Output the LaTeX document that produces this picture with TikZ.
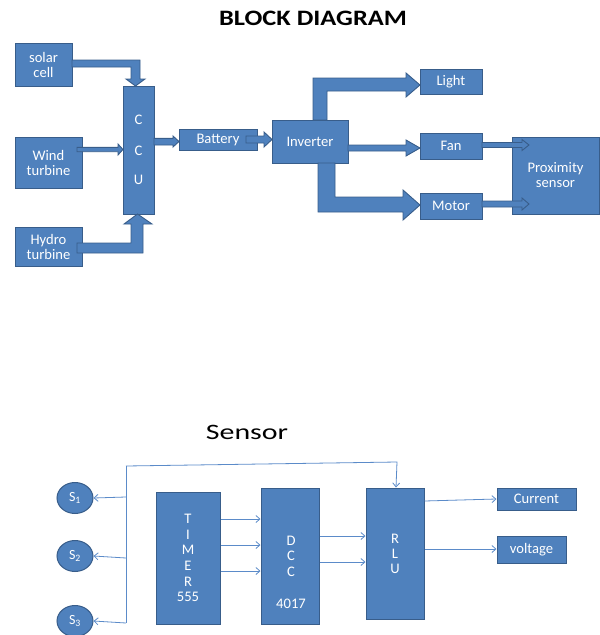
\documentclass[tikz,border=0pt]{standalone}
\usepackage{fontspec}
\setmainfont{Carlito}
\newfontfamily\titlefont{Carlito}[FakeStretch=1.2]
\newfontfamily\sensorfont{Carlito}[FakeStretch=1.36]
\usetikzlibrary{arrows.meta,shapes.geometric}
\definecolor{boxfill}{HTML}{4F81BD}
\definecolor{boxline}{HTML}{385D8A}
\definecolor{thinline}{HTML}{5B8BC9}
\tikzset{
  box/.style={rectangle, fill=boxfill, draw=boxline, line width=1pt, inner sep=0pt,
    text=white, align=center, font=\fontsize{14.6}{15}\selectfont},
  boxtext/.style={inner sep=0pt, text=white, align=center, font=\fontsize{14.6}{15.6}\selectfont},
  barrow/.style={fill=boxfill, draw=boxline, line width=0.9pt, line join=miter},
  sensorbub/.style={ellipse, fill=boxfill, draw=boxline, line width=1pt, inner sep=0pt,
    minimum width=36pt, minimum height=31pt, text=white, font=\fontsize{14}{16}\selectfont},
  thin/.style={draw=thinline, line width=0.8pt},
  thinarrow/.style={thin, -{Straight Barb[length=4pt,width=7pt,line width=0.8pt]}},
}
\begin{document}
\begin{tikzpicture}[x=1pt,y=-1pt]
\useasboundingbox (0,0) rectangle (600,635);

% titles
\node[anchor=base, inner sep=0pt, font=\titlefont\bfseries\fontsize{22}{24}\selectfont] (title) at (313,25) {BLOCK DIAGRAM};
\node[anchor=base, inner sep=0pt, font=\sensorfont\fontsize{22}{24}\selectfont] (sensortitle) at (247,439) {Sensor};

% upper boxes
\node[box, minimum width=57pt, minimum height=43pt] (solar) at (43.5,64.5) {solar\\cell};
\node[box, minimum width=31pt, minimum height=128pt] (ccu) at (138.5,150) {C\\[16pt]C\\[14pt]U};
\node[box, minimum width=67pt, minimum height=51pt] (wind) at (48.5,162.5) {Wind\\turbine};
\node[box, minimum width=67pt, minimum height=39pt] (hydro) at (48.5,246.5) {Hydro\\turbine};
\node[box, minimum width=78pt, minimum height=21pt] (battery) at (218,139.5) {Battery};
\node[box, minimum width=76pt, minimum height=43pt] (inverter) at (310,141.5) {Inverter};
\node[box, minimum width=62pt, minimum height=25pt] (light) at (451,81.5) {Light};
\node[box, minimum width=62pt, minimum height=26pt] (fan) at (451,146) {Fan};
\node[box, minimum width=62pt, minimum height=26pt] (motor) at (451,206) {Motor};
\node[box, minimum width=87pt, minimum height=77pt] (prox) at (555.5,175.5) {Proximity\\sensor};

% block arrows
\draw[barrow] (72,60) -- (140,60) -- (140,79) -- (145,79) -- (135.5,86) -- (126,79) -- (131,79) -- (131,67) -- (72,67) -- cycle;
\draw[barrow] (77,147.3) -- (118,147.3) -- (118,144) -- (123,149.5) -- (118,155) -- (118,151.7) -- (77,151.7) -- cycle;
\draw[barrow] (77,243) -- (131,243) -- (131,224) -- (124,224) -- (137.5,214) -- (152,224) -- (143,224) -- (143,253) -- (77,253) -- cycle;
\draw[barrow] (154,138.3) -- (173,138.3) -- (173,136) -- (179,141.5) -- (173,147) -- (173,145) -- (154,145) -- cycle;
\draw[barrow] (246,136) -- (264,136) -- (264,132) -- (272,139.5) -- (264,147) -- (264,143) -- (246,143) -- cycle;
\draw[barrow] (313,120) -- (313,78) -- (406,78) -- (406,73) -- (420,85) -- (406,97) -- (406,91) -- (327,91) -- (327,120) -- cycle;
\draw[barrow] (348,145) -- (406,145) -- (406,140) -- (420,148) -- (406,156) -- (406,151) -- (348,151) -- cycle;
\draw[barrow] (318,163) -- (318,212) -- (403,212) -- (403,220) -- (420,205) -- (403,190) -- (403,197) -- (335,197) -- (335,163) -- cycle;
\draw[barrow] (482,142.5) -- (522,142.5) -- (522,139.5) -- (529,145) -- (522,150.5) -- (522,147.5) -- (482,147.5) -- cycle;
\draw[barrow] (482,201) -- (522,201) -- (522,198) -- (529,204) -- (522,210) -- (522,207) -- (482,207) -- cycle;

% lower part
\node[sensorbub] (s1) at (75,498) {S\textsubscript{1}};
\node[sensorbub] (s2) at (75,556) {S\textsubscript{2}};
\node[sensorbub] (s3) at (75,621) {S\textsubscript{3}};
\node[box, minimum width=64pt, minimum height=132pt] (timer) at (188,558) {};
\node[boxtext] (timertext) at (188,558) {T\\I\\M\\E\\R\\555};
\node[box, minimum width=58pt, minimum height=136pt] (dcc) at (290,556) {};
\node[boxtext] (dcctext) at (291,572) {D\\C\\C\\[16pt]4017};
\node[box, minimum width=58pt, minimum height=131pt] (rlu) at (395,553.5) {R\\L\\U};
\node[box, minimum width=79pt, minimum height=22pt] (current) at (536.5,499) {Current};
\node[box, minimum width=69pt, minimum height=27pt] (voltage) at (531.5,549.5) {voltage};

\coordinate (bustop) at (126,466);
\coordinate (busbot) at (126,623);
\coordinate (topright) at (397,462);
\draw[thin] (bustop) -- (busbot);
\draw[thinarrow] (bustop) -- (topright) -- (rlu.north -| 396,0);
\draw[thinarrow] (126,497) -- (s1.east);
\draw[thinarrow] (126,558) -- (s2.east);
\draw[thinarrow] (busbot) -- (s3.east);

\draw[thinarrow] (timer.east |- 0,519) -- (dcc.west |- 0,519);
\draw[thinarrow] (timer.east |- 0,545) -- (dcc.west |- 0,545);
\draw[thinarrow] (timer.east |- 0,571) -- (dcc.west |- 0,571);
\draw[thinarrow] (dcc.east |- 0,536) -- (rlu.west |- 0,536);
\draw[thinarrow] (dcc.east |- 0,562) -- (rlu.west |- 0,562);
\draw[thinarrow] (rlu.east |- 0,501) -- (current.west);
\draw[thinarrow] (rlu.east |- 0,549) -- (voltage.west |- 0,549);
\end{tikzpicture}
\end{document}
